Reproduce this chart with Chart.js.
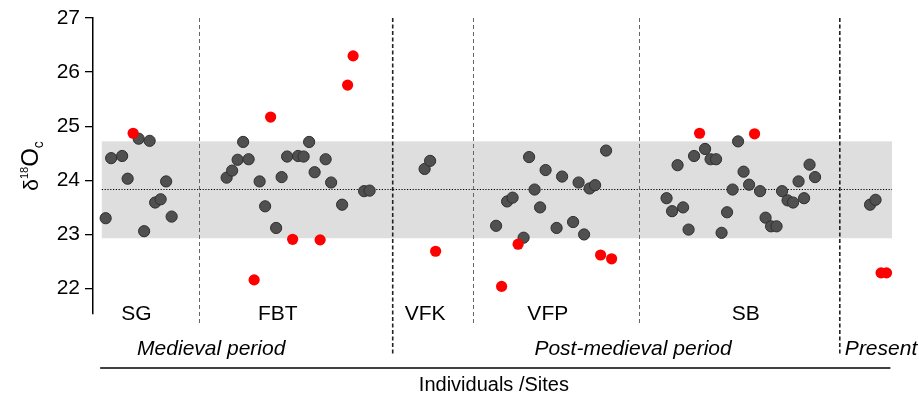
<!DOCTYPE html>
<html>
<head>
<meta charset="utf-8">
<script src="https://cdn.jsdelivr.net/npm/chart.js@4.4.1/dist/chart.umd.min.js"></script>
<style>
  html, body { margin: 0; padding: 0; background: #fff; }
  #wrap { width: 919px; height: 401px; position: relative; }
</style>
</head>
<body>
<div id="wrap"><canvas id="chart"></canvas></div>
<script>
// individual index (position along x) and d18Oc values
const grayIndex = [
  2, 3, 5, 6, 8, 9, 10, 11, 12, 13, 14,
  24, 25, 26, 27, 28, 30, 31, 33, 34, 35, 37, 38, 39, 40, 42, 43, 45, 49, 50,
  60, 61,
  73, 75, 76, 78, 79, 80, 81, 82, 84, 85, 87, 88, 89, 90, 91, 93,
  104, 105, 106, 107, 108, 109, 111, 112, 113, 114, 115, 116, 117, 118, 119,
  121, 122, 123, 124, 125, 126, 127, 128, 129, 130, 131,
  141, 142
];
const grayValues = [
  23.30, 24.41, 24.45, 24.03, 24.77, 23.06, 24.73, 23.59, 23.65, 23.98, 23.33,
  24.05, 24.18, 24.38, 24.71, 24.39, 23.98, 23.52, 23.12, 24.06, 24.44, 24.45, 24.44, 24.71, 24.15, 24.39, 23.96, 23.55, 23.80, 23.81,
  24.21, 24.36,
  23.16, 23.61, 23.68, 22.94, 24.43, 23.83, 23.50, 24.19, 23.12, 24.07, 23.23, 23.96, 23.00, 23.85, 23.91, 24.55,
  23.67, 23.43, 24.28, 23.50, 23.09, 24.45, 24.58, 24.39, 24.39, 23.03, 23.41, 23.83, 24.72, 24.16, 23.92,
  23.80, 23.31, 23.15, 23.15, 23.80, 23.63, 23.59, 23.98, 23.67, 24.29, 24.06,
  23.55, 23.64
];
const redIndex = [7, 29, 32, 36, 41, 46, 47, 62, 74, 77, 92, 94, 110, 120, 143, 144];
const redValues = [24.87, 22.16, 25.17, 22.91, 22.90, 25.76, 26.30, 22.69, 22.04, 22.82, 22.62, 22.55, 24.87, 24.86, 22.29, 22.29];

const siteNames = ['SG', 'FBT', 'VFK', 'VFP', 'SB'];
const siteCenters = [7.6, 33.3, 60.1, 82.4, 118.4];
const periodNames = ['Medieval period', 'Post-medieval period', 'Present'];
const periodCenters = [21.2, 97.9, 143.0];
const siteDividers = [19.0, 68.8, 99.0];
const periodDividers = [54.2, 135.5];

const bandLow = 22.93;
const bandHigh = 24.72;
const meanValue = 23.84;
const bandStart = 1.3;
const bandEnd = 145.0;
const yTicks = [22, 23, 24, 25, 26, 27];

const FONT = '"Liberation Sans", Arial, sans-serif';

const decorations = {
  id: 'decorations',
  beforeDatasetsDraw(chart) {
    const { ctx, chartArea, scales: { x, y } } = chart;
    const x0 = x.getPixelForValue(bandStart);
    const x1 = x.getPixelForValue(bandEnd);
    ctx.save();
    // grey range band
    ctx.fillStyle = '#dedede';
    ctx.fillRect(x0, y.getPixelForValue(bandHigh), x1 - x0,
      y.getPixelForValue(bandLow) - y.getPixelForValue(bandHigh));
    // dotted mean
    ctx.strokeStyle = '#000';
    ctx.lineWidth = 1.2;
    ctx.setLineDash([1.2, 1.6]);
    const ym = Math.round(y.getPixelForValue(meanValue)) + 0.5;
    ctx.beginPath();
    ctx.moveTo(x0, ym);
    ctx.lineTo(x1, ym);
    ctx.stroke();
    // site dividers
    ctx.strokeStyle = '#666';
    ctx.lineWidth = 1;
    ctx.setLineDash([4, 3]);
    siteDividers.forEach(v => {
      const px = Math.round(x.getPixelForValue(v)) + 0.5;
      ctx.beginPath();
      ctx.moveTo(px, chartArea.top);
      ctx.lineTo(px, chartArea.bottom + 12);
      ctx.stroke();
    });
    // period dividers
    ctx.strokeStyle = '#222';
    ctx.lineWidth = 1.6;
    ctx.setLineDash([4, 2.5]);
    periodDividers.forEach(v => {
      const px = x.getPixelForValue(v);
      ctx.beginPath();
      ctx.moveTo(px, chartArea.top);
      ctx.lineTo(px, chartArea.bottom + 41);
      ctx.stroke();
    });
    ctx.restore();
  },
  afterDraw(chart) {
    const { ctx, chartArea, scales: { x } } = chart;
    const b = chartArea.bottom;
    ctx.save();
    ctx.fillStyle = '#000';
    ctx.textAlign = 'center';
    ctx.textBaseline = 'middle';
    ctx.font = '21px ' + FONT;
    siteNames.forEach((s, i) => ctx.fillText(s, x.getPixelForValue(siteCenters[i]), b));
    ctx.font = 'italic 21px ' + FONT;
    periodNames.forEach((s, i) => ctx.fillText(s, x.getPixelForValue(periodCenters[i]), b + 35));
    // bracket line under periods
    ctx.strokeStyle = '#000';
    ctx.lineWidth = 1.5;
    ctx.beginPath();
    ctx.moveTo(x.getPixelForValue(1.0), b + 54);
    ctx.lineTo(x.getPixelForValue(144.7), b + 54);
    ctx.stroke();
    ctx.font = '20px ' + FONT;
    ctx.fillText('Individuals /Sites', x.getPixelForValue(72.6), b + 71);

    // y axis title: δ18Oc
    ctx.translate(30, 166);
    ctx.rotate(-Math.PI / 2);
    ctx.textAlign = 'left';
    ctx.textBaseline = 'alphabetic';
    const parts = [
      { t: '\u03b4', f: '21px ', dy: 0 },
      { t: '18', f: '11px ', dy: -10 },
      { t: 'O', f: '24px ', dy: 0 },
      { t: 'c', f: '14px ', dy: 5 }
    ];
    let w = 0;
    parts.forEach(p => { ctx.font = p.f + FONT; w += ctx.measureText(p.t).width; });
    let cx = -w / 2;
    parts.forEach(p => {
      ctx.font = p.f + FONT;
      ctx.fillText(p.t, cx, 8 + p.dy);
      cx += ctx.measureText(p.t).width;
    });
    ctx.restore();
  }
};

new Chart(document.getElementById('chart'), {
  type: 'scatter',
  data: {
    datasets: [
      {
        label: 'Outliers',
        data: redIndex.map((v, i) => ({ x: v, y: redValues[i] })),
        backgroundColor: '#ff0000',
        borderWidth: 0,
        pointRadius: 5.6
      },
      {
        label: 'Individuals',
        data: grayIndex.map((v, i) => ({ x: v, y: grayValues[i] })),
        backgroundColor: '#505050',
        borderColor: '#2f2f2f',
        borderWidth: 1,
        pointRadius: 5.6
      }
    ]
  },
  options: {
    responsive: true,
    maintainAspectRatio: false,
    animation: false,
    events: [],
    layout: { autoPadding: false, padding: { top: 18, bottom: 87, left: 0, right: 0 } },
    plugins: { legend: { display: false }, tooltip: { enabled: false } },
    scales: {
      x: { type: 'linear', display: false, min: -0.3, max: 149.9 },
      y: {
        min: 21.53,
        max: 27,
        afterBuildTicks: (scale) => { scale.ticks = yTicks.map(v => ({ value: v })); },
        afterFit: (scale) => { scale.width = 93; },
        grid: { drawOnChartArea: false, drawTicks: true, tickLength: 8, color: '#000', lineWidth: 1.3 },
        border: { display: true, color: '#000', width: 1.5 },
        ticks: { color: '#000', font: { family: FONT, size: 21 }, padding: 5 }
      }
    }
  },
  plugins: [decorations]
});
</script>
</body>
</html>
